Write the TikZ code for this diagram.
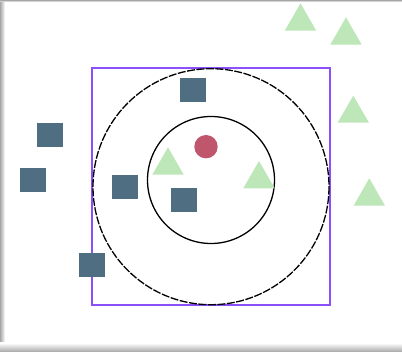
\documentclass[tikz,border=0pt]{standalone}
\usetikzlibrary{shapes.geometric}
\definecolor{sq}{RGB}{80,110,130}
\definecolor{tri}{RGB}{189,231,184}
\definecolor{dot}{RGB}{192,86,107}
\definecolor{frame}{RGB}{140,80,250}
\tikzset{
  sqbox/.style={draw=none,fill=sq,minimum width=26pt,minimum height=24pt,inner sep=0pt},
  trifill/.style={fill=tri,draw=none},
}
\newcommand{\tri}[3]{\fill[trifill] (#1-15.7,#3) -- (#1,#2) -- (#1+15.7,#3) -- cycle;}
\begin{document}
\begin{tikzpicture}[x=1pt,y=-1pt]
\useasboundingbox (0,0) rectangle (402,352);
\fill[white] (0,0) rectangle (402,352);
% shadow edges
\shade[left color=black!35,right color=white] (0,0) rectangle (5,352);
\shade[top color=black!35,bottom color=white] (0,0) rectangle (402,2);
\shade[top color=white,bottom color=black!35] (0,343) rectangle (402,352);
% frame and circles
\draw[frame,line width=1.6pt] (91.7,68) rectangle (330,305);
\draw[line width=1.3pt,dash pattern=on 8pt off 1.5pt] (211,186.7) circle (118);
\draw[line width=1.3pt] (211,180) circle (63.5);
% query point
\fill[dot] (206,146.7) circle (11.7);
% squares
\node[sqbox] (s1) at (193,90) {};
\node[sqbox] (s2) at (49.8,134.7) {};
\node[sqbox] (s3) at (32.8,179.7) {};
\node[sqbox] (s4) at (125,187) {};
\node[sqbox] (s5) at (184,200.3) {};
\node[sqbox] (s6) at (91.8,265.3) {};
% triangles
\tri{300.5}{3.3}{30.7}
\tri{346}{17.3}{44.7}
\tri{353.3}{95.7}{122.7}
\tri{369.3}{178.3}{205.7}
\tri{168}{147.3}{174.7}
\tri{259}{161}{188.3}
\end{tikzpicture}
\end{document}
